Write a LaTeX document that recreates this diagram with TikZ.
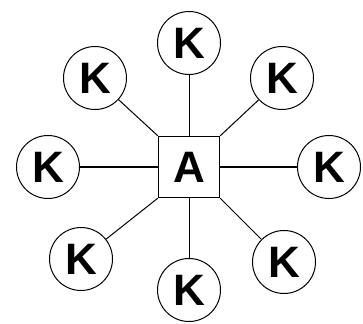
\documentclass[tikz,border=0pt]{standalone}
\usepackage{fontspec}
\setmainfont{Liberation Sans}
\usetikzlibrary{positioning}

\begin{document}
\begin{tikzpicture}[
    x=1pt, y=-1pt,
    hub/.style={
        rectangle,
        minimum size=61pt,
        inner sep=0pt,
        draw=black,
        line width=1.4pt,
        font=\fontsize{44}{46}\selectfont\bfseries
    },
    leaf/.style={
        circle,
        minimum size=63pt,
        inner sep=0pt,
        draw=black,
        line width=1pt,
        font=\fontsize{44}{46}\selectfont\bfseries
    },
    link/.style={line width=1pt},
    hlink/.style={line width=2pt}
]
\useasboundingbox (0,0) rectangle (363,323);

% Nodes
\node (a) [hub] at (189,167) {A};
\node (kt) [leaf] at (189,43) {K};
\node (ktl) [leaf] at (95,78) {K};
\node (ktr) [leaf] at (282,78) {K};
\node (kl) [leaf] at (48,167) {K};
\node (kr) [leaf] at (329,167) {K};
\node (kbl) [leaf] at (81,259) {K};
\node (kb) [leaf] at (189,290) {K};
\node (kbr) [leaf] at (284,262) {K};

% Links
\draw [link] (a) -- (kt);
\draw [link] (a) -- (kb);
\draw [hlink] (a) -- (kl);
\draw [hlink] (a) -- (kr);
\draw [link] (a.north west) -- (ktl);
\draw [link] (a.north east) -- (ktr);
\draw [link] (a.south west) -- (kbl);
\draw [link] (a.south east) -- (kbr);

\end{tikzpicture}
\end{document}
